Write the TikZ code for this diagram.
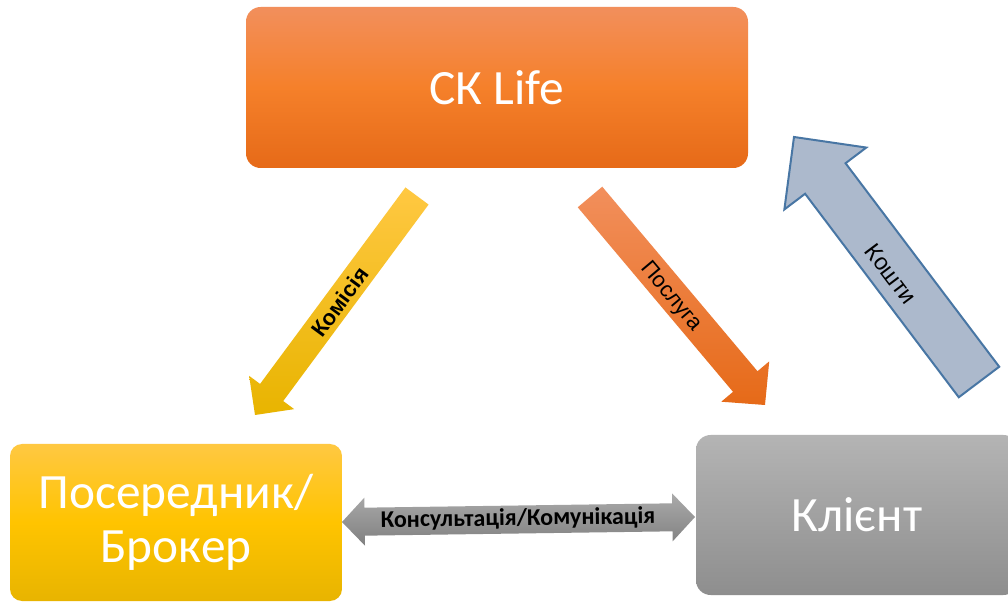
\documentclass[tikz,border=0pt]{standalone}
\usepackage{fontspec}
\setmainfont{Carlito}
\newfontfamily\arialf{Liberation Sans}
\usetikzlibrary{calc}
\definecolor{orTop}{RGB}{242,143,92}
\definecolor{orMid}{RGB}{245,128,42}
\definecolor{orBot}{RGB}{230,106,24}
\definecolor{yeTop}{RGB}{255,200,66}
\definecolor{yeMid}{RGB}{255,196,0}
\definecolor{yeBot}{RGB}{232,180,0}
\definecolor{grTop}{RGB}{180,180,180}
\definecolor{grBot}{RGB}{142,142,142}
\definecolor{dgTop}{RGB}{170,170,170}
\definecolor{dgBot}{RGB}{128,128,128}
\definecolor{blFill}{RGB}{172,185,204}
\definecolor{blLine}{RGB}{72,118,164}
\newcommand{\blockarrow}[6]{%
  \coordinate (h) at ($(#3)!#6!(#2)$);
  \path[#1] ($(#2)!#4!90:(#3)$) -- ($(h)!#4!90:(#3)$) -- ($(h)!#5!90:(#3)$) -- (#3)
    -- ($(h)!#5!-90:(#3)$) -- ($(h)!#4!-90:(#3)$) -- ($(#2)!#4!-90:(#3)$) -- cycle;
}
\newcommand{\doublearrow}[6]{%
  \coordinate (h1) at ($(#2)!#6!(#3)$);
  \coordinate (h2) at ($(#3)!#6!(#2)$);
  \path[#1] (#2) -- ($(h1)!#5!90:(#3)$) -- ($(h1)!#4!90:(#3)$) -- ($(h2)!#4!-90:(#2)$)
    -- ($(h2)!#5!-90:(#2)$) -- (#3) -- ($(h2)!#5!90:(#2)$) -- ($(h2)!#4!90:(#2)$)
    -- ($(h1)!#4!-90:(#3)$) -- ($(h1)!#5!-90:(#3)$) -- cycle;
}
\tikzset{
  box/.style={rectangle, inner sep=0pt, text=white, font=\fontsize{37}{40}\selectfont, align=center},
  lbl/.style={inner sep=0pt, text=black},
}
\begin{document}
\begin{tikzpicture}[x=0.75pt,y=-0.75pt]
\clip (0,0) rectangle (1008,602);
\fill[white] (0,0) rectangle (1008,602);
% boxes
\node[box, rounded corners=11pt, minimum width=376.5pt, minimum height=120.75pt,
  top color=orTop, bottom color=orBot, middle color=orMid] (sk) at (497,87.5) {СК Life};
\node[box, rounded corners=9pt, minimum width=249pt, minimum height=117.75pt,
  top color=yeTop, bottom color=yeBot, middle color=yeMid] (broker) at (176,522.5) {Посередник/\\Брокер};
\node[box, rounded corners=11pt, minimum width=241.5pt, minimum height=120pt,
  top color=grTop, bottom color=grBot] (client) at (857,515) {Клієнт};
% arrow end points
\coordinate (kT) at (417,196); \coordinate (kP) at (255,415);
\coordinate (pT) at (590,197); \coordinate (pP) at (765,405);
\coordinate (cT) at (979,382); \coordinate (cP) at (794,137);
\coordinate (dA) at (342,522); \coordinate (dB) at (695,517);
% arrows
\blockarrow{top color=yeTop, bottom color=yeBot}{kT}{kP}{10.8pt}{21pt}{21pt}
\blockarrow{top color=orTop, bottom color=orBot}{pT}{pP}{12pt}{23.5pt}{23pt}
\blockarrow{fill=blFill, draw=blLine, line width=1.5pt, line join=miter}{cT}{cP}{19pt}{38.5pt}{39pt}
\doublearrow{top color=dgTop, bottom color=dgBot}{dA}{dB}{10.5pt}{18pt}{17pt}
% labels
\node[lbl, font=\arialf\bfseries\fontsize{16.5}{18}\selectfont, rotate=53.5] (kl) at (340,302) {Комісія};
\node[lbl, font=\arialf\fontsize{16.5}{18}\selectfont, rotate=-50] (pl) at (671,297) {Послуга};
\node[lbl, font=\arialf\fontsize{17.5}{18}\selectfont, rotate=-53] (cl) at (891,274) {Кошти};
\node[lbl, font=\bfseries\fontsize{18}{18}\selectfont, rotate=0.8] (dl) at (518,519) {Консультація/Комунікація};
\end{tikzpicture}
\end{document}
